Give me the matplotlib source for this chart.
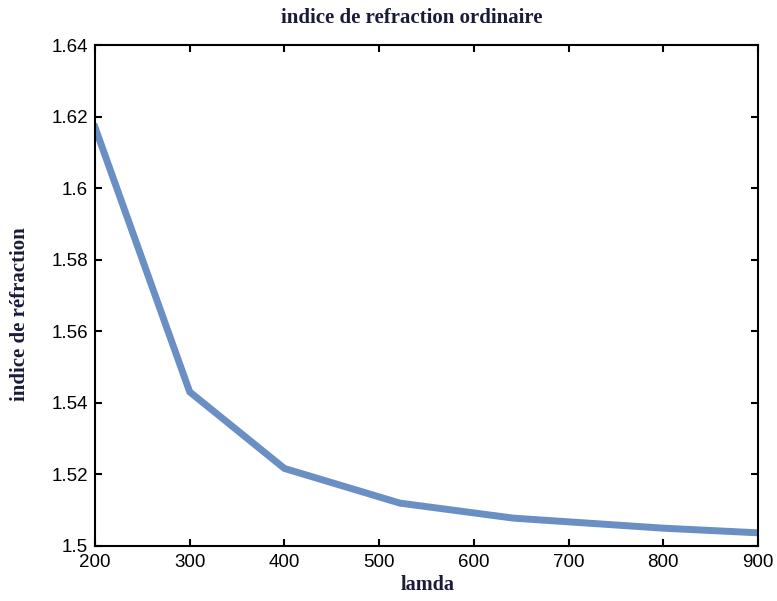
import matplotlib
matplotlib.use("Agg")
import matplotlib.pyplot as plt

lamda = [200, 300, 400, 522, 642, 800, 900]
indice = [1.617, 1.543, 1.5216, 1.5119, 1.5077, 1.5049, 1.5036]
xticks = [200, 300, 400, 500, 600, 700, 800, 900]
yticks = [1.5, 1.52, 1.54, 1.56, 1.58, 1.6, 1.62, 1.64]
yticklabels = ["1.5", "1.52", "1.54", "1.56", "1.58", "1.6", "1.62", "1.64"]

fig = plt.figure(figsize=(7.77, 6.01), dpi=100)
ax = fig.add_axes([95/777, 1-545.7/601, (758-95)/777, (545.7-45)/601])
ax.plot(lamda, indice, color="#6a8fc4", linewidth=5, solid_joinstyle="miter")
ax.set_xlim(200, 900)
ax.set_ylim(1.5, 1.64)
ax.set_xticks(xticks)
ax.set_xticklabels([str(v) for v in xticks])
ax.set_yticks(yticks)
ax.set_yticklabels(yticklabels)
ax.tick_params(direction="in", top=True, right=True, length=5, width=1.5,
               labelsize=13.5, colors="black")
ax.tick_params(axis="x", pad=6)
ax.tick_params(axis="y", pad=5)
for lab in ax.get_xticklabels() + ax.get_yticklabels():
    lab.set_fontfamily("Liberation Sans")
for s in ax.spines.values():
    s.set_linewidth(1.5)

serif = dict(family="Liberation Serif", weight="bold", color="#1a1a3a")
fig.text(412/777, 1-18/601, "indice de refraction ordinaire", ha="center", va="center", fontsize=15, **serif)
fig.text(428/777, 1-585/601, "lamda", ha="center", va="center", fontsize=14.5, **serif)
fig.text(20/777, 1-314/601, "indice de réfraction", ha="center", va="center", rotation=90, fontsize=15, **serif)

fig.savefig("out.png", dpi=100)
